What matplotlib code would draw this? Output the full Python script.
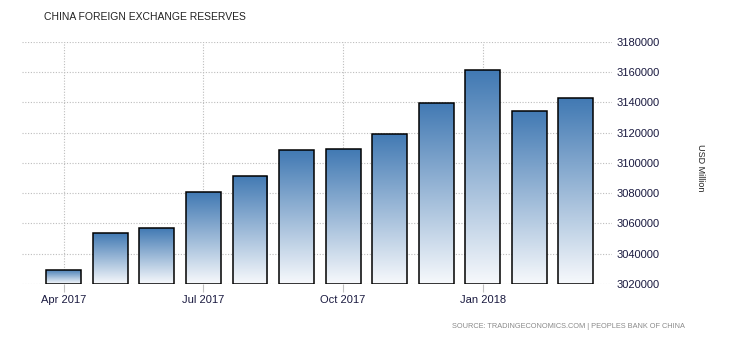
import matplotlib
matplotlib.use("Agg")
import matplotlib.pyplot as plt
import numpy as np
from matplotlib.colors import LinearSegmentedColormap

months = ["Apr 2017", "May 2017", "Jun 2017", "Jul 2017", "Aug 2017", "Sep 2017",
          "Oct 2017", "Nov 2017", "Dec 2017", "Jan 2018", "Feb 2018", "Mar 2018"]
reserves = [3029533, 3053567, 3056789, 3080720, 3091527, 3108510,
            3109213, 3119282, 3139949, 3161460, 3134482, 3142820]
tick_idx = [0, 3, 6, 9]
yticks = [3020000, 3040000, 3060000, 3080000, 3100000, 3120000, 3140000, 3160000, 3180000]

plt.rcParams['font.family'] = ['Liberation Sans', 'DejaVu Sans']

fig = plt.figure(figsize=(7.3, 3.4), dpi=100)
ax = fig.add_axes([22 / 730, 1 - 284 / 340, (612 - 22) / 730, (284 - 42) / 340])

x = np.arange(len(reserves))
ymin, ymax = 3020000, 3180000
bars = ax.bar(x, np.array(reserves) - ymin, bottom=ymin, width=0.75,
              facecolor='none', edgecolor='black', linewidth=1.1, zorder=3)

# vertical gradient inside each bar, dark at the top
cmap = LinearSegmentedColormap.from_list("tebar", ["#f7f9fc", "#4179b3"])
grad = np.linspace(0, 1, 256).reshape(-1, 1)
for b in bars:
    x0, y0 = b.get_x(), b.get_y()
    im = ax.imshow(grad, cmap=cmap, origin='lower', aspect='auto',
                   extent=(x0, x0 + b.get_width(), y0, y0 + b.get_height()), zorder=2)
    im.set_clip_path(b)

ax.set_xlim(-0.9, 11.78)
ax.set_ylim(ymin, ymax)

ax.set_xticks(tick_idx)
ax.set_xticklabels([months[i] for i in tick_idx])
ax.set_yticks(yticks)
ax.set_yticklabels([str(v) for v in yticks])
ax.yaxis.tick_right()
ax.tick_params(axis='y', length=0, pad=3, labelsize=8, labelcolor='#1a1a40')
ax.tick_params(axis='x', length=6, color='#c0c0c0', pad=2, labelsize=8, labelcolor='#1a1a40')
for s in ax.spines.values():
    s.set_visible(False)
ax.grid(True, color='#bdbdbd', linestyle=(0, (1, 1.5)), linewidth=0.8, zorder=0)
ax.set_axisbelow(True)

fig.text(44 / 730, 1 - 17 / 340, "CHINA FOREIGN EXCHANGE RESERVES", fontsize=7.5,
         color='#222222', va='center', ha='left')
fig.text(700 / 730, 1 - 168 / 340, "USD Million", fontsize=6.5, rotation=270,
         color='#222222', va='center', ha='center')
fig.text(685 / 730, 1 - 326 / 340, "SOURCE: TRADINGECONOMICS.COM | PEOPLES BANK OF CHINA",
         fontsize=5.3, color='#8a8a8a', va='center', ha='right')

fig.savefig("out.png", dpi=100)
